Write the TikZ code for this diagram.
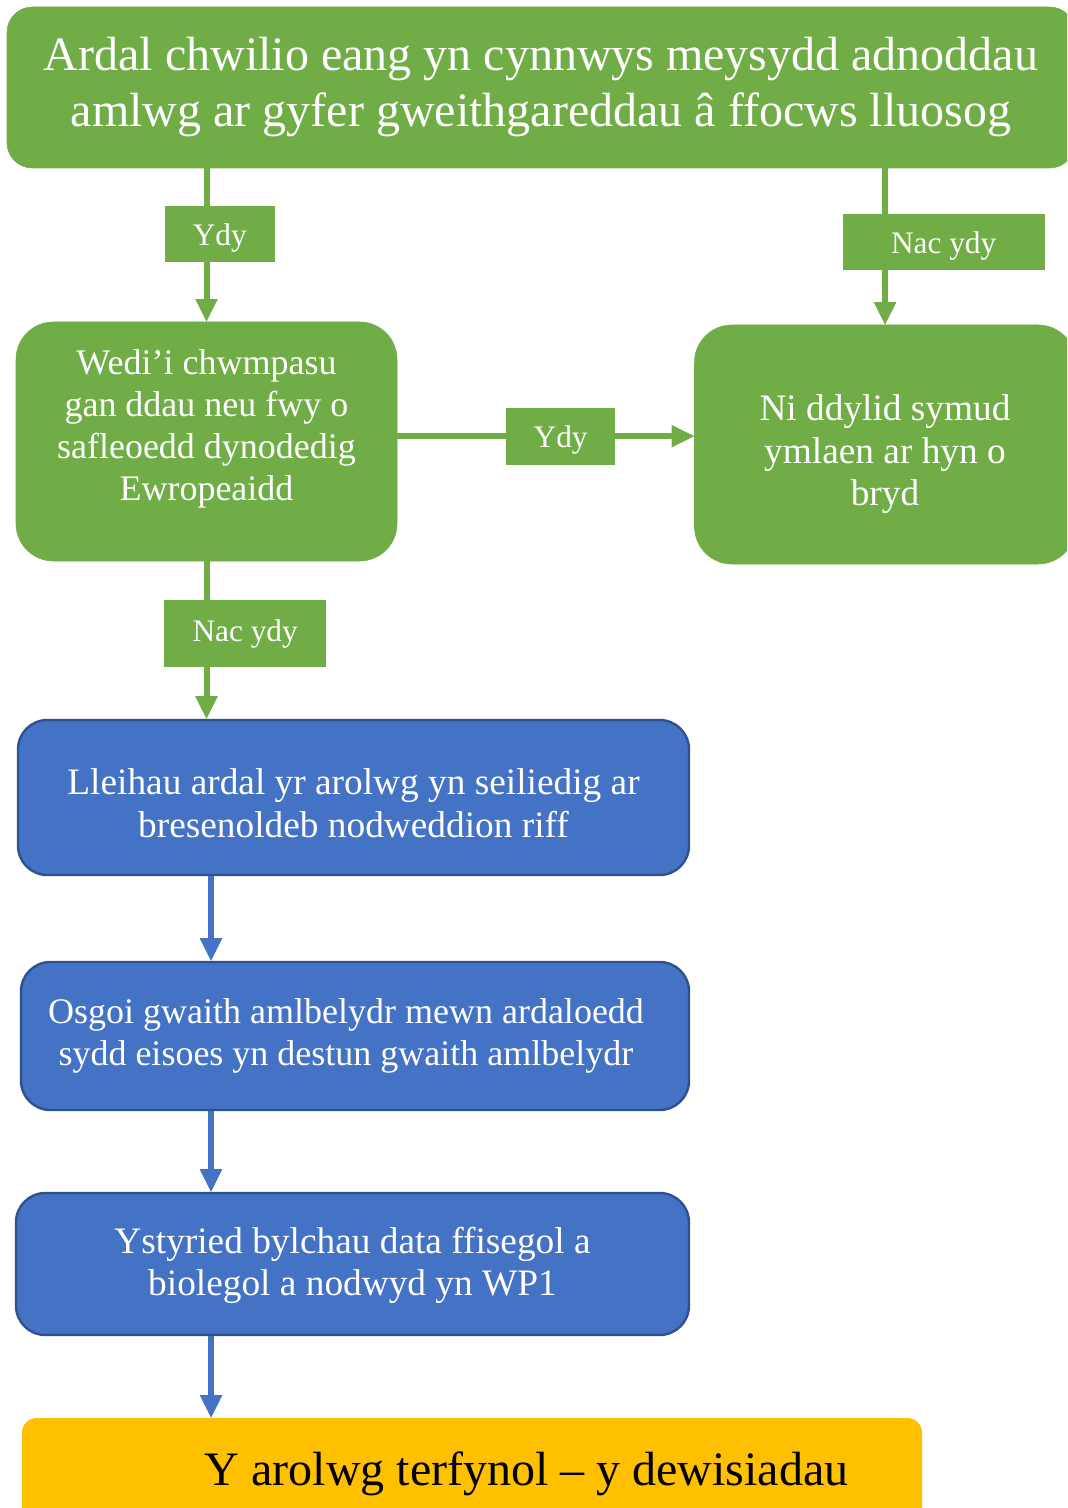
\documentclass[tikz,border=0pt]{standalone}
\usepackage{fontspec}
\setmainfont{Liberation Serif}
\usetikzlibrary{arrows.meta}
\definecolor{leafgreen}{HTML}{70AD47}
\definecolor{boxblue}{HTML}{4472C4}
\definecolor{edgeblue}{HTML}{2F528F}
\definecolor{gold}{HTML}{FFC000}
% lines of a box, raised or lowered inside it
\newcommand{\lifted}[2]{\raisebox{#1}[\height][\depth]{\begin{tabular}{@{}c@{}}#2\end{tabular}}}
\tikzset{
    greenbox/.style={
        fill=leafgreen, draw=leafgreen, text=white,
        rounded corners=28pt, inner sep=0pt,
        minimum width=285.75pt, minimum height=179.25pt,
        font=\fontsize{27}{31.5}\selectfont
    },
    bluebox/.style={
        fill=boxblue, draw=edgeblue, line width=1.8pt, text=white,
        rounded corners=22pt, inner sep=0pt,
        font=\fontsize{28}{32}\selectfont
    },
    tag/.style={
        fill=leafgreen, text=white, inner sep=0pt,
        font=\fontsize{23.5}{26}\selectfont
    },
    garrow/.style={
        draw=leafgreen, line width=4.5pt,
        -{Triangle[width=17pt,length=17pt,line width=0pt]}
    },
    barrow/.style={
        draw=boxblue, line width=4.5pt,
        -{Triangle[width=17pt,length=17pt,line width=0pt]}
    }
}

\begin{document}
\begin{tikzpicture}[x=0.75pt, y=-0.75pt]
\useasboundingbox (0,0) rectangle (1067,1508);
\clip (0,0) rectangle (1067,1508);

% green decision boxes:
\node[greenbox, align=center, rounded corners=19pt, minimum width=801pt, minimum height=120.75pt,
  font=\fontsize{36}{42}\selectfont] (area) at (541,87.5)
  {Ardal chwilio eang yn cynnwys meysydd adnoddau\\amlwg ar gyfer gweithgareddau â ffocws lluosog};
\node[greenbox] (sites) at (206.5,441.5)
  {\lifted{9pt}{Wedi’i chwmpasu\\gan ddau neu fwy o\\safleoedd dynodedig\\Ewropeaidd}};
\node[greenbox, font=\fontsize{28}{32}\selectfont] (halt) at (885,444.5)
  {\lifted{-7.5pt}{Ni ddylid symud\\ymlaen ar hyn o\\bryd}};

% blue steps:
\node[bluebox, minimum width=503.25pt, minimum height=116.25pt] (reduce) at (353.5,797.5)
  {\lifted{-7.5pt}{Lleihau ardal yr arolwg yn seiliedig ar\\bresenoldeb nodweddion riff}};
\node[bluebox, minimum width=501pt, minimum height=111pt, font=\fontsize{27}{32}\selectfont] (avoid) at (355,1036)
  {\lifted{0pt}{Osgoi gwaith amlbelydr mewn ardaloedd\\sydd eisoes yn destun gwaith amlbelydr}\hspace*{13.5pt}};
\node[bluebox, minimum width=504.75pt, minimum height=106.5pt] (gaps) at (352.5,1264)
  {\lifted{-1.5pt}{Ystyried bylchau data ffisegol a\\biolegol a nodwyd yn WP1}};
\node[fill=gold, rounded corners=11pt, inner sep=0pt, minimum width=675pt, minimum height=84pt,
  font=\fontsize{36}{42}\selectfont] (final) at (472,1474)
  {\hspace*{82pt}Y arolwg terfynol – y dewisiadau};

\coordinate (lane) at (211,0);

% yes / no branches:
\draw[garrow] (sites.north |- area.south) -- (sites.north)
  node[tag, pos=.43, xshift=10pt, minimum width=82.5pt, minimum height=42pt]
  {\raisebox{-3pt}[\height][\depth]{Ydy}};
\draw[garrow] (halt.north |- area.south) -- (halt.north)
  node[tag, pos=.47, xshift=44pt, minimum width=151.5pt, minimum height=42pt]
  {\raisebox{-3pt}[\height][\depth]{Nac ydy}};
\draw[garrow] ([yshift=4pt]sites.east) -- ([yshift=4pt]sites.east -| halt.west)
  node[tag, pos=.55, minimum width=82pt, minimum height=43pt]
  {\raisebox{-3pt}[\height][\depth]{Ydy}};
\draw[garrow] (sites.south) -- (sites.south |- reduce.north)
  node[tag, pos=.46, xshift=29pt, minimum width=121.5pt, minimum height=50pt] {Nac ydy};

\draw[barrow] (reduce.south -| lane) -- (avoid.north -| lane);
\draw[barrow] (avoid.south -| lane) -- (gaps.north -| lane);
\draw[barrow] (gaps.south -| lane) -- (final.north -| lane);

\end{tikzpicture}
\end{document}
